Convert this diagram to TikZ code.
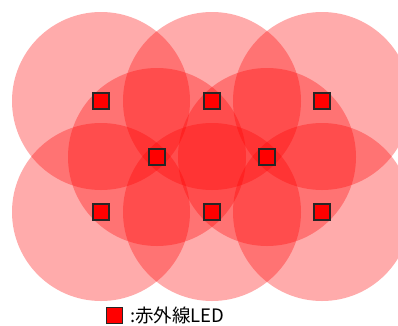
\documentclass[tikz,border=0pt]{standalone}
\usepackage{fontspec}
\newfontfamily\jpfont{Noto Sans CJK JP}
\usetikzlibrary{positioning}
\tikzstyle{led} = [draw=black!85, fill=red, line width=1.2pt, minimum size=16pt, inner sep=0pt]
\tikzstyle{area} = [fill=red, fill opacity=0.33]

\begin{document}
\begin{tikzpicture}[x=1pt,y=-1pt]
	\useasboundingbox (0,0) rectangle (398,325);

	%% LED positions (top row, middle row, bottom row)
	\coordinate (A1) at (101,101);
	\coordinate (A2) at (212,101);
	\coordinate (A3) at (322,101);
	\coordinate (B1) at (157,157);
	\coordinate (B2) at (267,157);
	\coordinate (C1) at (101,212);
	\coordinate (C2) at (212,212);
	\coordinate (C3) at (322,212);

	%% Light areas
	\fill[area] (A1) circle (89pt);
	\fill[area] (A2) circle (89pt);
	\fill[area] (A3) circle (89pt);
	\fill[area] (C1) circle (89pt);
	\fill[area] (C2) circle (89pt);
	\fill[area] (C3) circle (89pt);
	\fill[area] (B1) circle (89pt);
	\fill[area] (B2) circle (89pt);

	%% LEDs
	\node[led] (ledA1) at (A1) {};
	\node[led] (ledA2) at (A2) {};
	\node[led] (ledA3) at (A3) {};
	\node[led] (ledB1) at (B1) {};
	\node[led] (ledB2) at (B2) {};
	\node[led] (ledC1) at (C1) {};
	\node[led] (ledC2) at (C2) {};
	\node[led] (ledC3) at (C3) {};

	%% Legend
	\node[led] (key) at (114.5,315.5) {};
	\node[right=7pt of key, inner sep=0pt, font=\jpfont\fontsize{18.5}{20}\selectfont] (keytext) {:赤外線LED};
\end{tikzpicture}
\end{document}
